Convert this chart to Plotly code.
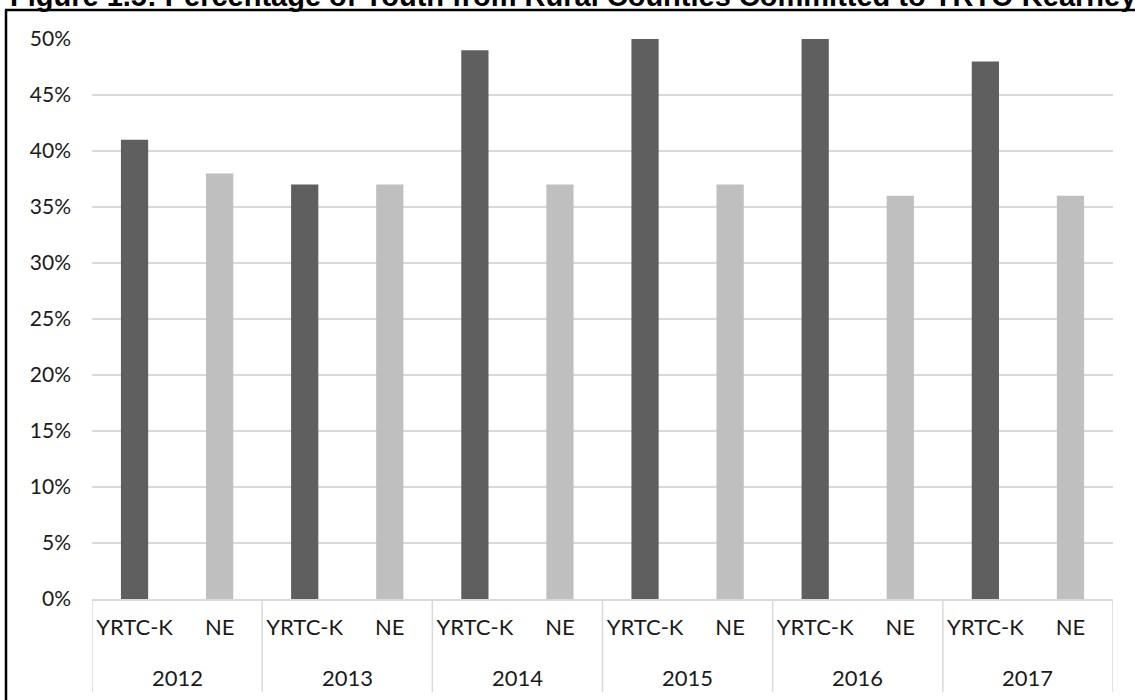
import plotly.graph_objects as go

# Data
years = ["2012", "2013", "2014", "2015", "2016", "2017"]
groups = ["YRTC-K", "NE"]
yrtc_k = [0.41, 0.37, 0.49, 0.50, 0.50, 0.48]
ne = [0.38, 0.37, 0.37, 0.37, 0.36, 0.36]
title_text = "Figure 1.5: Percentage of Youth from Rural Counties Committed to YRTC-Kearney"

W, H = 1135, 700
L, R, T, B = 92, 22, 39, 101
pw, ph = W - L - R, H - T - B


def px_to_paper_x(px):
    return (px - L) / pw


def px_to_paper_y(py):
    return (H - B - py) / ph


# each year occupies two category slots: YRTC-K then NE
n_groups = len(groups)
slot_k = [i * n_groups for i in range(len(years))]
slot_ne = [i * n_groups + 1 for i in range(len(years))]
tick_pos = [i * n_groups + j for i in range(len(years)) for j in range(n_groups)]
tick_txt = [g for _ in years for g in groups]

fig = go.Figure()
fig.add_trace(go.Bar(
    x=slot_k, y=yrtc_k, name=groups[0],
    marker=dict(color="#5f5f5f", line=dict(width=0)), width=0.32,
))
fig.add_trace(go.Bar(
    x=slot_ne, y=ne, name=groups[1],
    marker=dict(color="#bfbfbf", line=dict(width=0)), width=0.32,
))

grid = "#d9d9d9"
text_color = "#1a1a1a"

shapes = []
# group dividers below the axis
for i in range(len(years) + 1):
    xd = i * n_groups - 0.5
    shapes.append(dict(type="line", xref="x", yref="paper",
                       x0=xd, x1=xd, y0=0, y1=px_to_paper_y(692),
                       line=dict(color=grid, width=1.5)))
# page frame: left and top rules
shapes.append(dict(type="line", xref="paper", yref="paper",
                   x0=px_to_paper_x(6), x1=px_to_paper_x(6),
                   y0=px_to_paper_y(10), y1=px_to_paper_y(H + 5),
                   line=dict(color="black", width=2.5)))
shapes.append(dict(type="line", xref="paper", yref="paper",
                   x0=px_to_paper_x(5), x1=px_to_paper_x(W + 5),
                   y0=px_to_paper_y(10), y1=px_to_paper_y(10),
                   line=dict(color="black", width=2.5)))

annotations = []
# year labels under each pair of bars
for i, yr in enumerate(years):
    annotations.append(dict(text=yr, xref="x", yref="paper",
                            x=i * n_groups + (n_groups - 1) / 2,
                            y=px_to_paper_y(677), xanchor="center", yanchor="middle",
                            showarrow=False,
                            font=dict(family="Lato", size=22, color=text_color)))
annotations.append(dict(text="<b>" + title_text + "</b>", xref="paper", yref="paper",
                        x=px_to_paper_x(8), y=px_to_paper_y(14.5),
                        xanchor="left", yanchor="bottom", showarrow=False,
                        font=dict(family="Liberation Sans", size=29, color="black")))

fig.update_layout(
    width=W, height=H,
    margin=dict(l=L, r=R, t=T, b=B),
    paper_bgcolor="white", plot_bgcolor="white",
    barmode="overlay",
    showlegend=False,
    font=dict(family="Lato", color=text_color),
    xaxis=dict(
        range=[-0.5, len(tick_pos) - 0.5],
        tickvals=tick_pos, ticktext=tick_txt,
        showline=True, linecolor=grid, linewidth=1.5,
        showgrid=False, zeroline=False, ticks="",
        ticklabelstandoff=8,
        tickfont=dict(family="Lato", size=22, color=text_color),
    ),
    yaxis=dict(
        range=[0, 0.5], dtick=0.05, tickformat=".0%",
        showgrid=True, gridcolor=grid, gridwidth=1.5,
        zeroline=False, showline=False, ticks="",
        ticklabelstandoff=20,
        tickfont=dict(family="Lato", size=21, color=text_color),
    ),
    shapes=shapes,
    annotations=annotations,
)

fig.write_html("out.html")
